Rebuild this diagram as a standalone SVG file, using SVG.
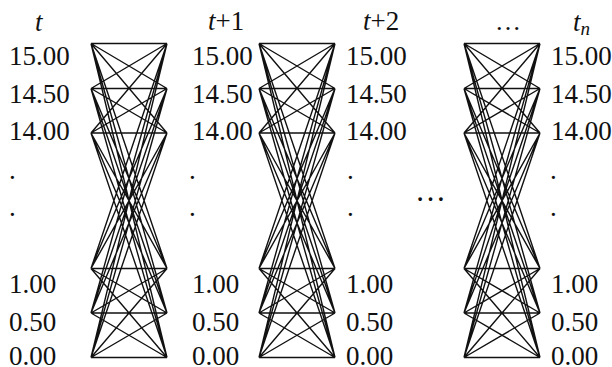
<svg xmlns="http://www.w3.org/2000/svg" width="612" height="367" viewBox="0 0 612 367">
<style>
.lb{font-family:"Liberation Serif","Times New Roman",serif;font-size:27px;fill:#111}
.it{font-style:italic}
.e{stroke:#111;stroke-width:1.4;fill:none}
</style>
<rect width="612" height="367" fill="#fff"/>
<defs>
<g id="lattice">
<path class="e" d="M0 43.5L76 43.5M0 43.5L76 88.5M0 43.5L76 133M0 43.5L76 268.5M0 43.5L76 313M0 43.5L76 357.5
M0 88.5L76 43.5M0 88.5L76 88.5M0 88.5L76 133M0 88.5L76 268.5M0 88.5L76 313M0 88.5L76 357.5
M0 133L76 43.5M0 133L76 88.5M0 133L76 133M0 133L76 268.5M0 133L76 313M0 133L76 357.5
M0 268.5L76 43.5M0 268.5L76 88.5M0 268.5L76 133M0 268.5L76 268.5M0 268.5L76 313M0 268.5L76 357.5
M0 313L76 43.5M0 313L76 88.5M0 313L76 133M0 313L76 268.5M0 313L76 313M0 313L76 357.5
M0 357.5L76 43.5M0 357.5L76 88.5M0 357.5L76 133M0 357.5L76 268.5M0 357.5L76 313M0 357.5L76 357.5"/>
</g>
</defs>
<g id="connectors">
<use href="#lattice" x="91"/>
<use href="#lattice" x="259"/>
<use href="#lattice" x="464"/>
</g>
<g id="col-t" class="lb">
<text x="35" y="31" class="it">t</text>
<text x="9" y="65">15.00</text>
<text x="9" y="103">14.50</text>
<text x="9" y="140">14.00</text>
<text x="9" y="179">.</text>
<text x="9" y="216">.</text>
<text x="9" y="293">1.00</text>
<text x="9" y="331">0.50</text>
<text x="9" y="365">0.00</text>
</g>
<g id="col-t1" class="lb">
<text x="208" y="30"><tspan class="it">t</tspan>+1</text>
<text x="192" y="65">15.00</text>
<text x="192" y="103">14.50</text>
<text x="192" y="140">14.00</text>
<text x="189" y="179">.</text>
<text x="189" y="216">.</text>
<text x="192" y="293">1.00</text>
<text x="192" y="331">0.50</text>
<text x="192" y="365">0.00</text>
</g>
<g id="col-t2" class="lb">
<text x="363" y="30"><tspan class="it">t</tspan>+2</text>
<text x="346" y="65">15.00</text>
<text x="346" y="103">14.50</text>
<text x="346" y="140">14.00</text>
<text x="347" y="179">.</text>
<text x="347" y="216">.</text>
<text x="346" y="293">1.00</text>
<text x="346" y="331">0.50</text>
<text x="346" y="365">0.00</text>
</g>
<g id="gap" class="lb">
<text x="495" y="30" style="font-size:26px">…</text>
<text x="415" y="201" style="font-size:31px">…</text>
</g>
<g id="col-tn" class="lb">
<text x="573" y="31"><tspan class="it">t</tspan><tspan class="it" dy="4" style="font-size:19px">n</tspan></text>
<text x="551" y="65">15.00</text>
<text x="551" y="103">14.50</text>
<text x="551" y="140">14.00</text>
<text x="550" y="179">.</text>
<text x="550" y="216">.</text>
<text x="551" y="293">1.00</text>
<text x="551" y="331">0.50</text>
<text x="551" y="365">0.00</text>
</g>
</svg>
